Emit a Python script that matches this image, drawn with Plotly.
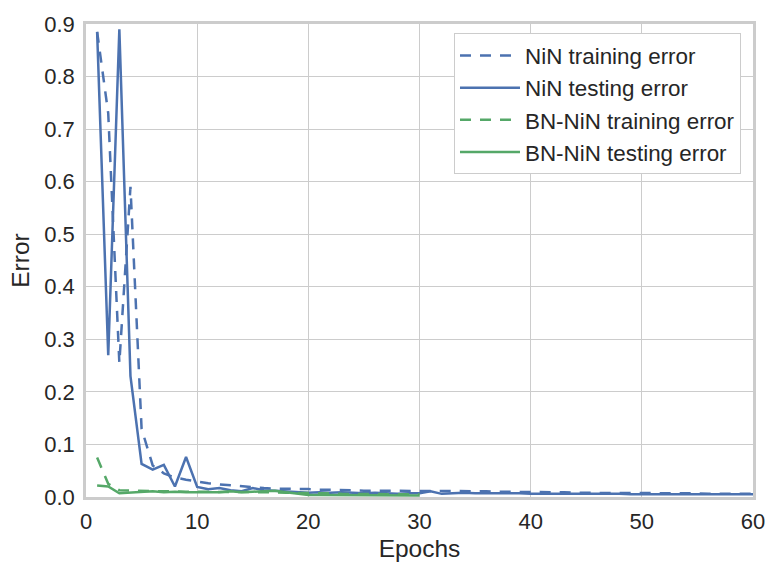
import plotly.graph_objects as go

# ---- data ----
epochs_nin = list(range(1, 61))
nin_train = [0.885, 0.73, 0.255, 0.59, 0.13, 0.06, 0.045, 0.037, 0.033, 0.029,
             0.026, 0.024, 0.022, 0.020, 0.018, 0.017, 0.016, 0.016, 0.015, 0.015,
             0.014, 0.014, 0.013, 0.013, 0.012, 0.012, 0.012, 0.012, 0.012, 0.012,
             0.012, 0.012, 0.011, 0.011, 0.011, 0.011, 0.010, 0.010, 0.010, 0.009,
             0.009, 0.009, 0.009, 0.008, 0.008, 0.008, 0.008, 0.008, 0.007, 0.007,
             0.007, 0.007, 0.007, 0.007, 0.007, 0.006, 0.006, 0.006, 0.006, 0.006]
nin_test = [0.885, 0.27, 0.89, 0.23, 0.063, 0.052, 0.061, 0.020, 0.076, 0.019,
            0.015, 0.017, 0.013, 0.011, 0.017, 0.013, 0.012, 0.011, 0.010, 0.008,
            0.009, 0.008, 0.009, 0.008, 0.007, 0.008, 0.007, 0.006, 0.007, 0.007,
            0.011, 0.006, 0.007, 0.008, 0.007, 0.007, 0.008, 0.007, 0.007, 0.006,
            0.006, 0.007, 0.006, 0.006, 0.006, 0.006, 0.006, 0.006, 0.005, 0.005,
            0.006, 0.005, 0.005, 0.005, 0.005, 0.005, 0.005, 0.005, 0.005, 0.005]

epochs_bn = list(range(1, 31))
bn_train = [0.075, 0.025, 0.013, 0.012, 0.011, 0.011, 0.011, 0.010, 0.010, 0.010,
            0.010, 0.010, 0.009, 0.009, 0.009, 0.009, 0.009, 0.008, 0.008, 0.007,
            0.007, 0.007, 0.006, 0.006, 0.006, 0.006, 0.005, 0.005, 0.005, 0.005]
bn_test = [0.022, 0.020, 0.007, 0.008, 0.010, 0.011, 0.009, 0.010, 0.009, 0.009,
           0.010, 0.009, 0.011, 0.009, 0.010, 0.011, 0.012, 0.009, 0.006, 0.004,
           0.004, 0.004, 0.004, 0.004, 0.004, 0.004, 0.003, 0.003, 0.003, 0.003]

x_ticks = [0, 10, 20, 30, 40, 50, 60]
y_ticks = [0.0, 0.1, 0.2, 0.3, 0.4, 0.5, 0.6, 0.7, 0.8, 0.9]

BLUE = "#4C72B0"
GREEN = "#55A868"
FONT = "Liberation Sans, Arial, sans-serif"
TXT = "#262626"

fig = go.Figure()
series = [
    ("NiN training error", epochs_nin, nin_train, BLUE, "11px,9px"),
    ("NiN testing error", epochs_nin, nin_test, BLUE, "solid"),
    ("BN-NiN training error", epochs_bn, bn_train, GREEN, "11px,9px"),
    ("BN-NiN testing error", epochs_bn, bn_test, GREEN, "solid"),
]
for i, (name, xs, ys, col, dash) in enumerate(series):
    fig.add_trace(go.Scatter(x=xs, y=ys, mode="lines", name=name,
                             legendgroup=f"g{i}",
                             line=dict(color=col, width=2.5, dash=dash)))

fig.update_layout(
    width=769, height=562,
    margin=dict(l=86, r=16, t=24, b=65),
    paper_bgcolor="white", plot_bgcolor="white",
    font=dict(family=FONT, color=TXT, size=22),
    showlegend=True,
    legend=dict(x=0.982, y=0.98, xanchor="right", yanchor="top",
                bgcolor="white", bordercolor="#cccccc", borderwidth=1,
                font=dict(family=FONT, size=22.4, color=TXT),
                itemwidth=60, tracegroupgap=0),
)
fig.update_xaxes(range=[0, 60], tickvals=x_ticks, ticktext=[str(v) for v in x_ticks],
                 showgrid=True, gridcolor="#cccccc", gridwidth=1.3,
                 showline=True, linecolor="#cccccc", linewidth=2.5, mirror=True,
                 zeroline=False, ticks="", ticklabelstandoff=3, automargin=False,
                 title=dict(text="Epochs", font=dict(size=24.5, family=FONT, color=TXT), standoff=7))
fig.update_yaxes(range=[0, 0.9], tickvals=y_ticks, ticktext=[f"{v:.1f}" for v in y_ticks],
                 showgrid=True, gridcolor="#cccccc", gridwidth=1.3,
                 showline=True, linecolor="#cccccc", linewidth=2.5, mirror=True,
                 zeroline=False, ticks="", ticklabelstandoff=4, automargin=False,
                 title=dict(text="Error", font=dict(size=24.5, family=FONT, color=TXT), standoff=8))

fig.write_html("out.html")
